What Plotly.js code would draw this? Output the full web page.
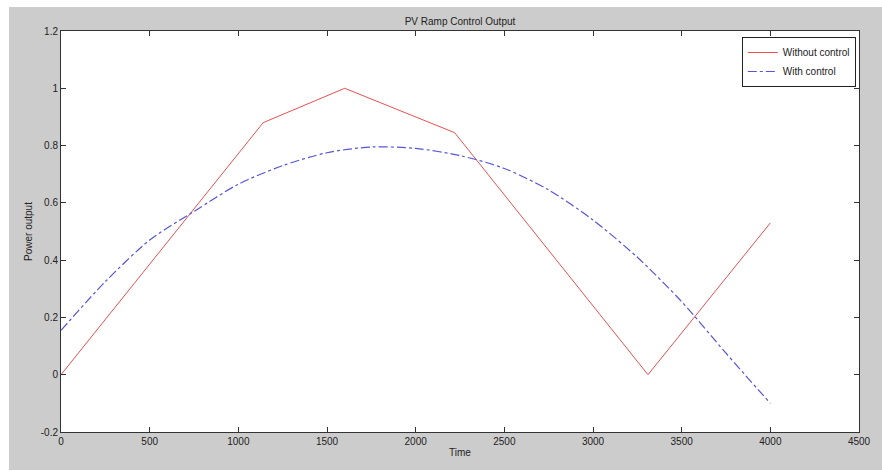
<!DOCTYPE html>
<html>
<head>
<meta charset="utf-8">
<script src="https://cdn.plot.ly/plotly-3.0.1.min.js"></script>
<style>
html,body{margin:0;padding:0;background:#ffffff;width:882px;height:471px;overflow:hidden;}
#chart{position:absolute;left:9px;top:7px;width:873px;height:463px;}
</style>
</head>
<body>
<div id="chart"></div>
<script>
// Series: without control (piecewise ramp)
const timeWithout = [0, 1140, 1600, 2220, 3310, 4000];
const powerWithout = [0, 0.88, 1.0, 0.845, 0, 0.53];

// Series: with control (smoothed)
const timeWith = [0, 250, 500, 750, 1000, 1250, 1500, 1750, 2000, 2250, 2500, 2750, 3000, 3250, 3500, 3750, 4000];
const powerWith = [0.155, 0.325, 0.47, 0.57, 0.665, 0.73, 0.775, 0.795, 0.79, 0.765, 0.72, 0.645, 0.54, 0.41, 0.255, 0.075, -0.1];

// Tick labels
const xTickVals = [0, 500, 1000, 1500, 2000, 2500, 3000, 3500, 4000, 4500];
const xTickText = ["0", "500", "1000", "1500", "2000", "2500", "3000", "3500", "4000", "4500"];
const yTickVals = [-0.2, 0, 0.2, 0.4, 0.6, 0.8, 1, 1.2];
const yTickText = ["-0.2", "0", "0.2", "0.4", "0.6", "0.8", "1", "1.2"];

const seriesNames = ["Without control", "With control"];

const font = {family: "Liberation Sans, Arial, sans-serif", size: 10, color: "#222222"};

const traces = [
  {x: timeWithout, y: powerWithout, name: seriesNames[0], type: "scatter", mode: "lines",
   line: {color: "rgb(232,80,80)", width: 1}},
  {x: timeWith, y: powerWith, name: seriesNames[1], type: "scatter", mode: "lines",
   line: {color: "rgb(85,85,215)", width: 1.2, dash: "dashdot", shape: "spline", smoothing: 0.8}}
];

const axisCommon = {
  showline: true, linecolor: "#333333", linewidth: 1, mirror: "ticks",
  ticks: "inside", ticklen: 5, tickcolor: "#333333", tickwidth: 1,
  showgrid: false, zeroline: false, tickfont: font, tickmode: "array",
  ticklabeloverflow: "allow"
};

const layout = {
  width: 873, height: 463,
  paper_bgcolor: "#cccccc", plot_bgcolor: "#ffffff",
  margin: {l: 52, r: 23, t: 24, b: 38},
  font: font,
  showlegend: true,
  title: {text: "PV Ramp Control Output", font: {family: font.family, size: 10, color: "#222222"},
          x: 0.5, xref: "paper", y: 1, yref: "paper", yanchor: "bottom", pad: {b: 6}},
  xaxis: Object.assign({}, axisCommon, {
    range: [0, 4500], tickvals: xTickVals, ticktext: xTickText,
    title: {text: "Time", font: font, standoff: 2}
  }),
  yaxis: Object.assign({}, axisCommon, {
    range: [-0.2, 1.2], tickvals: yTickVals, ticktext: yTickText,
    title: {text: "Power output", font: font, standoff: 6}
  }),
  legend: {x: 0.996, y: 0.985, xanchor: "right", yanchor: "top",
           bgcolor: "#ffffff", bordercolor: "#222222", borderwidth: 1,
           font: font, tracegroupgap: 0, itemwidth: 30}
};

Plotly.newPlot("chart", traces, layout, {displayModeBar: false, staticPlot: true});
</script>
</body>
</html>
